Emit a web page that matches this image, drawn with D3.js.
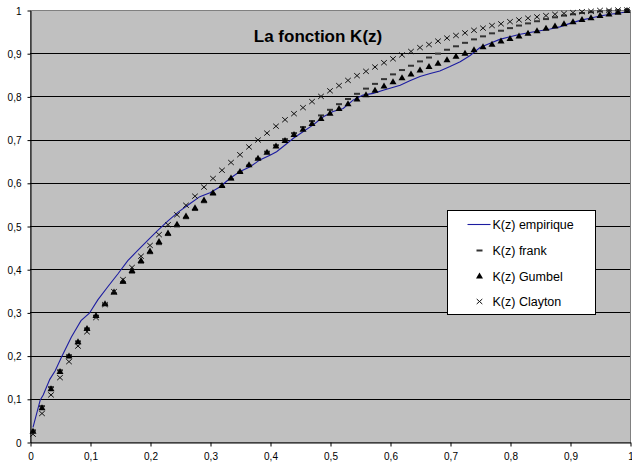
<!DOCTYPE html>
<html>
<head>
<meta charset="utf-8">
<script src="https://cdn.jsdelivr.net/npm/d3@7"></script>
<style>
  body { margin: 0; background: #fff; }
  svg text { font-family: "Liberation Sans", Arial, sans-serif; }
</style>
</head>
<body>
<div id="chart"></div>
<script>
// z grid shared by the three copula series
const zValues = [0.005, 0.02, 0.035, 0.05, 0.065, 0.08, 0.095, 0.11, 0.125, 0.14, 0.155, 0.17, 0.185, 0.2, 0.215, 0.23, 0.245, 0.26, 0.275, 0.29, 0.305, 0.32, 0.335, 0.35, 0.365, 0.38, 0.395, 0.41, 0.425, 0.44, 0.455, 0.47, 0.485, 0.5, 0.515, 0.53, 0.545, 0.56, 0.575, 0.59, 0.605, 0.62, 0.635, 0.65, 0.665, 0.68, 0.695, 0.71, 0.725, 0.74, 0.755, 0.77, 0.785, 0.8, 0.815, 0.83, 0.845, 0.86, 0.875, 0.89, 0.905, 0.92, 0.935, 0.95, 0.965, 0.98, 0.995]

const frank = [0.027, 0.083, 0.127, 0.166, 0.201, 0.233, 0.263, 0.292, 0.319, 0.344, 0.369, 0.392, 0.415, 0.437, 0.458, 0.479, 0.499, 0.518, 0.537, 0.555, 0.573, 0.591, 0.608, 0.624, 0.640, 0.656, 0.672, 0.687, 0.701, 0.715, 0.729, 0.743, 0.756, 0.769, 0.782, 0.794, 0.806, 0.818, 0.829, 0.840, 0.851, 0.861, 0.871, 0.881, 0.890, 0.899, 0.908, 0.916, 0.924, 0.932, 0.939, 0.946, 0.952, 0.958, 0.964, 0.969, 0.974, 0.979, 0.983, 0.987, 0.990, 0.993, 0.995, 0.997, 0.999, 0.9995, 1.0]

const gumbel = [0.025, 0.079, 0.123, 0.163, 0.199, 0.232, 0.263, 0.293, 0.320, 0.347, 0.372, 0.397, 0.420, 0.442, 0.464, 0.484, 0.504, 0.523, 0.542, 0.560, 0.577, 0.594, 0.611, 0.626, 0.642, 0.657, 0.671, 0.685, 0.698, 0.712, 0.724, 0.737, 0.749, 0.761, 0.772, 0.783, 0.794, 0.804, 0.814, 0.824, 0.834, 0.843, 0.852, 0.861, 0.869, 0.877, 0.885, 0.893, 0.900, 0.908, 0.915, 0.921, 0.928, 0.934, 0.940, 0.946, 0.952, 0.958, 0.963, 0.968, 0.973, 0.978, 0.982, 0.987, 0.991, 0.995, 0.999]

const clayton = [0.018, 0.066, 0.109, 0.149, 0.186, 0.222, 0.255, 0.288, 0.318, 0.348, 0.376, 0.404, 0.430, 0.455, 0.480, 0.503, 0.526, 0.548, 0.569, 0.590, 0.610, 0.629, 0.647, 0.665, 0.683, 0.699, 0.715, 0.731, 0.746, 0.760, 0.774, 0.788, 0.800, 0.813, 0.825, 0.837, 0.848, 0.858, 0.868, 0.878, 0.887, 0.896, 0.904, 0.913, 0.920, 0.928, 0.935, 0.941, 0.947, 0.953, 0.958, 0.964, 0.968, 0.973, 0.977, 0.981, 0.984, 0.987, 0.990, 0.992, 0.994, 0.996, 0.997, 0.999, 0.999, 1.0, 1.0]

const empX = [0.005, 0.017, 0.022, 0.033, 0.042, 0.052, 0.069, 0.085, 0.099, 0.113, 0.130, 0.147, 0.163, 0.180, 0.197, 0.213, 0.230, 0.247, 0.267, 0.283, 0.300, 0.317, 0.333, 0.350, 0.367, 0.383, 0.400, 0.411, 0.422, 0.439, 0.455, 0.472, 0.489, 0.505, 0.522, 0.539, 0.555, 0.572, 0.590, 0.600, 0.617, 0.633, 0.650, 0.667, 0.683, 0.700, 0.717, 0.733, 0.750, 0.767, 0.783, 0.800, 0.817, 0.833, 0.850, 0.867, 0.883, 0.900, 0.917, 0.933, 0.950, 0.967, 0.983, 1.000]
const empY = [0.034, 0.097, 0.109, 0.145, 0.165, 0.195, 0.243, 0.281, 0.298, 0.329, 0.360, 0.390, 0.420, 0.444, 0.468, 0.490, 0.512, 0.532, 0.552, 0.568, 0.577, 0.591, 0.610, 0.626, 0.637, 0.653, 0.664, 0.672, 0.684, 0.703, 0.718, 0.734, 0.753, 0.765, 0.772, 0.792, 0.803, 0.807, 0.815, 0.819, 0.826, 0.836, 0.846, 0.853, 0.859, 0.869, 0.880, 0.894, 0.913, 0.923, 0.932, 0.938, 0.944, 0.948, 0.952, 0.956, 0.961, 0.969, 0.976, 0.981, 0.986, 0.990, 0.993, 0.997]

const ticks = [0, 0.1, 0.2, 0.3, 0.4, 0.5, 0.6, 0.7, 0.8, 0.9, 1]
const legendLabels = ['K(z) empirique', 'K(z) frank', 'K(z) Gumbel', 'K(z) Clayton']

const width = 632
const height = 468
const plot = { left: 30, right: 630, top: 10, bottom: 442 }
const fmt = d => String(d).replace('.', ',')

const svg = d3.select('#chart').append('svg')
    .attr('width', width)
    .attr('height', height)

const x = d3.scaleLinear().domain([0, 1]).range([plot.left, plot.right])
const y = d3.scaleLinear().domain([0, 1]).range([plot.bottom, plot.top])

svg.append('rect')
    .attr('x', plot.left + 0.5).attr('y', plot.top + 0.5)
    .attr('width', plot.right - plot.left).attr('height', plot.bottom - plot.top)
    .attr('fill', '#c0c0c0')
    .attr('stroke', '#808080')

// horizontal gridlines
svg.append('g')
    .selectAll('line')
    .data(ticks.slice(1, -1))
    .enter()
    .append('line')
    .attr('x1', plot.left).attr('x2', plot.right)
    .attr('y1', d => Math.round(y(d)) + 0.5)
    .attr('y2', d => Math.round(y(d)) + 0.5)
    .attr('stroke', '#000')

const xAxis = svg.append('g')
    .attr('transform', `translate(0.5,${plot.bottom + 0.5})`)
    .call(d3.axisBottom(x).tickValues(ticks).tickFormat(fmt).tickSize(4).tickSizeOuter(0).tickPadding(6))
const yAxis = svg.append('g')
    .attr('transform', `translate(${plot.left + 0.5},0.5)`)
    .call(d3.axisLeft(y).tickValues(ticks).tickFormat(fmt).tickSize(3).tickSizeOuter(0).tickPadding(6))

for (const a of [xAxis, yAxis]) {
    a.select('.domain').attr('stroke', '#000')
    a.selectAll('.tick line').attr('stroke', '#000')
    a.selectAll('text').attr('fill', '#000').style('font-size', '10px')
}
yAxis.selectAll('text').attr('dy', '0.35em')

svg.append('text')
    .attr('x', 318).attr('y', 42)
    .attr('text-anchor', 'middle')
    .style('font-size', '17px')
    .style('font-weight', 'bold')
    .text('La fonction K(z)')

const lineColor = '#1c1ca0'
const empPoints = empX.map((d, i) => [d, empY[i]])
svg.append('path')
    .datum(empPoints)
    .attr('fill', 'none')
    .attr('stroke', lineColor)
    .attr('stroke-width', 1.1)
    .attr('d', d3.line().x(d => x(d[0])).y(d => y(d[1])))

function dash(g) {
    g.append('rect').attr('x', -3).attr('y', -1).attr('width', 6).attr('height', 2).attr('fill', '#333')
}
function triangle(g) {
    g.append('path').attr('d', 'M0,-3.5L3.5,2.5L-3.5,2.5Z').attr('fill', '#000')
}
function cross(g) {
    g.append('path').attr('d', 'M-2.8,-2.5L2.8,2.5M-2.8,2.5L2.8,-2.5').attr('stroke', '#111').attr('stroke-width', 1)
}

const markerSeries = [
    { values: frank, draw: dash },
    { values: gumbel, draw: triangle },
    { values: clayton, draw: cross }
]

markerSeries.forEach(s => {
    const g = svg.append('g')
    zValues.forEach((z, i) => {
        const m = g.append('g').attr('transform', `translate(${x(z)},${y(s.values[i])})`)
        s.draw(m)
    })
})

// legend
const legend = svg.append('g').attr('transform', 'translate(447.5,210.5)')
legend.append('rect')
    .attr('width', 148).attr('height', 104)
    .attr('fill', '#fff').attr('stroke', '#000')
const rowY = [14, 40, 65.5, 91]
legendLabels.forEach((label, i) => {
    const row = legend.append('g').attr('transform', `translate(0,${rowY[i]})`)
    if (i === 0) {
        row.append('line').attr('x1', 20).attr('x2', 43).attr('stroke', lineColor).attr('stroke-width', 1.1)
    } else {
        const m = row.append('g').attr('transform', 'translate(32,0)');
        [dash, triangle, cross][i - 1](m)
    }
    row.append('text')
        .attr('x', 45).attr('y', 4.5)
        .style('font-size', '12.5px')
        .text(label)
})
</script>
</body>
</html>
